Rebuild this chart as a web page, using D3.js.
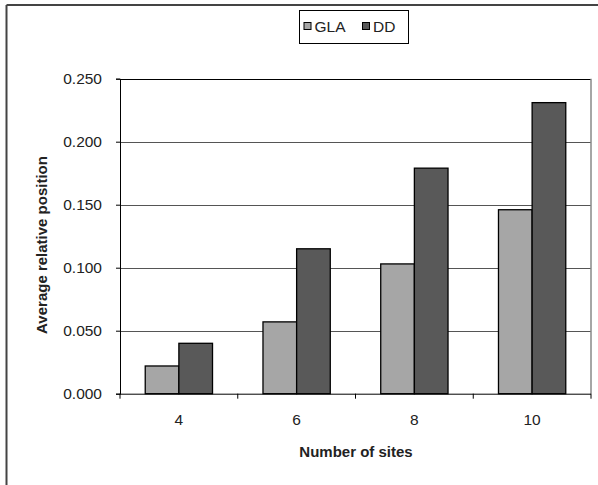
<!DOCTYPE html>
<html><head><meta charset="utf-8">
<script src="https://d3js.org/d3.v7.min.js"></script>
<style>body{margin:0;background:#fff}svg{display:block}text{font-family:"Liberation Sans",Arial,sans-serif;fill:#222}</style>
</head><body><svg id="c" width="598" height="485"></svg>
<script>
const categories = ["4","6","8","10"];
const seriesNames = ["GLA","DD"];
const glaValues = [0.022, 0.057, 0.103, 0.146];
const ddValues = [0.040, 0.115, 0.179, 0.231];
const yTicks = [0, 0.05, 0.10, 0.15, 0.20, 0.25];
const colors = ["#a6a6a6","#595959"];

const svg = d3.select("#c");
const L=120, R=591, T=78.7, B=393.7;
const x0 = d3.scaleBand().domain(categories).range([L,R]).paddingInner(0).paddingOuter(0);
// Excel gap width 150%: each bar = bandwidth/3.5
const barW = x0.bandwidth()/3.5;
const y = d3.scaleLinear().domain([0,0.25]).range([B,T]);

// outer frame (top & left)
svg.append("line").attr("x1",6.5).attr("x2",598).attr("y1",5).attr("y2",5).attr("stroke","#444").attr("stroke-width",2);
svg.append("line").attr("x1",6.5).attr("x2",6.5).attr("y1",5).attr("y2",485).attr("stroke","#444").attr("stroke-width",2);

// gridlines
svg.append("g").selectAll("line").data(yTicks.slice(1)).join("line")
  .attr("x1",L).attr("x2",R).attr("y1",d=>Math.round(y(d))+0.5).attr("y2",d=>Math.round(y(d))+0.5)
  .attr("stroke",d=>d===0.25?"#000":"#555").attr("stroke-width",1);
// right plot border
svg.append("line").attr("x1",R).attr("x2",R).attr("y1",T).attr("y2",B).attr("stroke","#888").attr("stroke-width",1.5);

// bars
const data = categories.map((c,i)=>({c, vals:[glaValues[i], ddValues[i]]}));
const g = svg.append("g");
data.forEach(d=>{
  d.vals.forEach((v,j)=>{
    const xs = x0(d.c) + x0.bandwidth()/2 - barW + j*barW;
    g.append("rect").attr("x",xs).attr("y",y(v)).attr("width",barW).attr("height",B-y(v))
      .attr("fill",colors[j]).attr("stroke","#000").attr("stroke-width",1.3);
  });
});

// y axis
const yAxis = d3.axisLeft(y).tickValues(yTicks).tickFormat(d3.format(".3f")).tickSize(4).tickPadding(14);
const ya = svg.append("g").attr("transform",`translate(${L},0)`).call(yAxis);
ya.select(".domain").attr("stroke","#000");
ya.selectAll(".tick line").attr("stroke","#000");
ya.selectAll("text").attr("font-size",15.5).attr("fill","#222").attr("font-family","Liberation Sans, Arial, sans-serif");

// x axis
const xAxis = d3.axisBottom(x0).tickSize(0).tickPadding(20);
const xa = svg.append("g").attr("transform",`translate(0,${B})`).call(xAxis);
xa.select(".domain").attr("stroke","#000").attr("d",`M${L},0.5H${R}`);
xa.selectAll("text").attr("font-size",15.5).attr("fill","#222").attr("font-family","Liberation Sans, Arial, sans-serif");
// boundary ticks
const bounds = categories.map(c=>x0(c)).concat([R]);
xa.append("g").selectAll("line").data(bounds).join("line")
  .attr("x1",d=>d).attr("x2",d=>d).attr("y1",0).attr("y2",5).attr("stroke","#000");

// axis titles
svg.append("text").attr("x",356).attr("y",457).attr("text-anchor","middle")
  .attr("font-size",15).attr("font-weight","bold").text("Number of sites");
svg.append("text").attr("transform","translate(47,245) rotate(-90)").attr("text-anchor","middle")
  .attr("font-size",15).attr("font-weight","bold").text("Average relative position");

// legend
const lg = svg.append("g");
lg.append("rect").attr("x",299.5).attr("y",10.5).attr("width",109).attr("height",33).attr("fill","#fff").attr("stroke","#000").attr("stroke-width",1);
const legendItems = [{n:seriesNames[0],c:colors[0],x:303.5},{n:seriesNames[1],c:colors[1],x:362}];
legendItems.forEach(it=>{
  lg.append("rect").attr("x",it.x+0.5).attr("y",22.5).attr("width",7).attr("height",7).attr("fill",it.c).attr("stroke","#000");
  lg.append("text").attr("x",it.x+11).attr("y",32).attr("font-size",15.5).text(it.n);
});
</script></body></html>
